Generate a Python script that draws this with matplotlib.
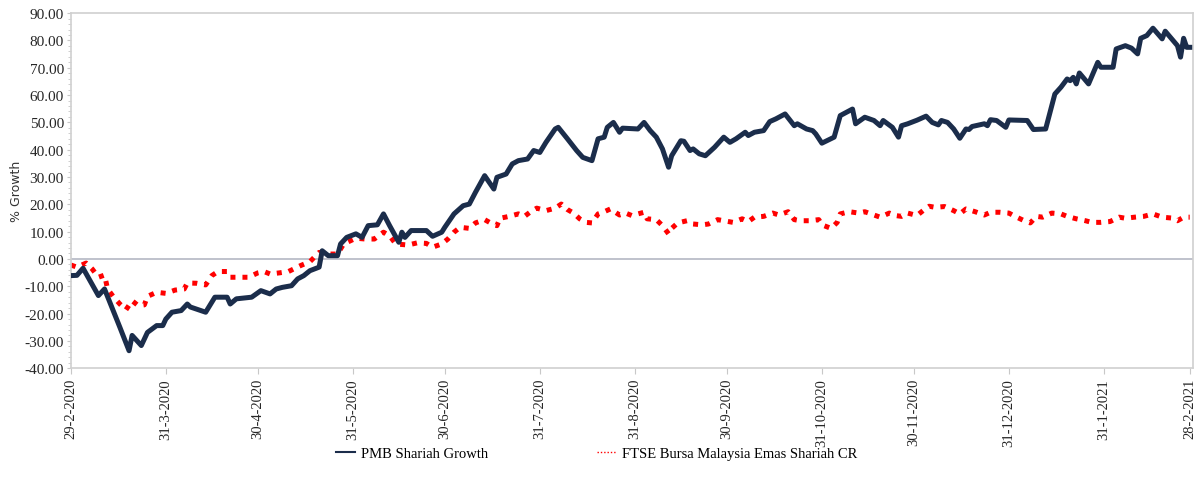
import numpy as np
import pandas as pd
import matplotlib
matplotlib.use("Agg")
import matplotlib.pyplot as plt
from matplotlib.ticker import MultipleLocator, FormatStrFormatter

# days after 29-2-2020 and % growth
pmb_days = [0, 2, 4, 9, 11, 16, 19, 20, 23, 25, 28, 30, 31, 33, 36, 38, 39, 44, 47, 51, 52,
            54, 59, 62, 65, 67, 69, 72, 74, 76, 78, 81, 82, 84, 87, 88, 90, 93, 95, 97,
            100, 102, 104, 107, 108, 109, 111, 116, 118, 121, 122, 125, 128, 130, 132, 135,
            138, 139, 142, 144, 146, 149, 151, 153, 155, 158, 159, 162, 165, 167, 170, 172,
            174, 175, 177, 179, 180, 185, 187, 189, 191, 193, 195, 196, 199, 200, 202, 203,
            205, 207, 210, 213, 215, 217, 220, 221, 223, 226, 228, 230, 233, 236, 237, 240,
            242, 243, 245, 249, 251, 255, 256, 259, 262, 264, 265, 268, 270, 271, 273, 276,
            279, 281, 283, 284, 286, 288, 290, 292, 293, 294, 298, 299, 300, 302, 305, 306,
            312, 314, 318, 321, 323, 325, 326, 327, 328, 329, 332, 335, 336, 340, 341, 344,
            346, 348, 349, 351, 353, 356, 357, 360, 361, 362, 363, 364, 365]
pmb_vals = [-6.1, -6.0, -3.4, -13.4, -11.0, -25.0, -33.6, -28.0, -31.7, -26.9, -24.4, -24.4, -22.0,
            -19.5, -18.9, -16.5, -17.6, -19.5, -14.0, -14.0, -16.5, -14.6, -14.0, -11.6, -12.8,
            -11.0, -10.4, -9.8, -7.3, -6.1, -4.3, -3.0, 3.0, 1.2, 1.2, 5.5, 7.9, 9.2, 7.9,
            12.2, 12.5, 16.5, 12.2, 6.1, 9.8, 7.9, 10.4, 10.4, 8.3, 9.8, 11.6, 16.5, 19.5, 20.1,
            24.4, 30.5, 25.6, 29.9, 31.1, 34.8, 36.0, 36.6, 39.7, 39.0, 42.7, 47.6, 48.2, 44.0,
            39.7, 37.2, 36.0, 44.0, 44.6, 48.2, 50.0, 46.4, 47.9, 47.6, 50.0, 47.0, 44.6, 40.3,
            33.6, 37.8, 43.3, 43.1, 39.7, 40.3, 38.5, 37.8, 40.9, 44.6, 42.7, 44.0, 46.4, 45.2,
            46.4, 47.0, 50.3, 51.3, 53.1, 48.8, 49.5, 47.6, 47.0, 45.8, 42.4, 44.6, 52.5, 54.9,
            49.5, 51.9, 50.7, 48.8, 50.7, 48.2, 44.6, 48.8, 49.5, 50.8, 52.3, 50.0, 49.1, 50.7,
            50.0, 47.6, 44.2, 47.6, 47.4, 48.5, 49.5, 48.8, 51.0, 50.7, 48.2, 50.9, 50.7, 47.4,
            47.6, 60.4, 62.9, 65.9, 65.3, 66.5, 64.1, 68.1, 64.1, 72.0, 70.2, 70.2, 76.9, 78.1,
            77.2, 75.1, 80.8, 81.8, 84.5, 80.6, 83.4, 79.4, 78.1, 73.9, 80.8, 77.5, 77.5]

ftse_days = [0, 2, 5, 7, 9, 11, 12, 14, 16, 18, 20, 22, 24, 25, 28, 31, 34, 37, 38, 41, 44,
             46, 48, 51, 52, 55, 58, 61, 63, 65, 68, 71, 75, 78, 81, 84, 87, 89, 93, 96, 99,
             102, 104, 106, 110, 113, 116, 118, 121, 123, 125, 127, 130, 132, 135, 138, 139,
             140, 143, 146, 148, 150, 152, 155, 158, 160, 162, 164, 166, 168, 170, 172, 174,
             176, 179, 181, 183, 187, 188, 191, 193, 195, 196, 198, 201, 203, 206, 208, 211,
             213, 216, 219, 221, 223, 226, 229, 231, 234, 236, 238, 241, 244, 245, 248, 250,
             251, 254, 257, 259, 262, 264, 267, 269, 271, 273, 276, 278, 280, 282, 285, 288,
             290, 292, 295, 298, 300, 303, 306, 308, 311, 313, 315, 317, 320, 323, 325, 328,
             331, 333, 336, 339, 342, 344, 347, 350, 353, 356, 359, 361, 363, 365]
ftse_vals = [-2.2, -3.0, -1.5, -3.7, -6.7, -5.9, -11.0, -14.0, -16.5, -18.6, -15.3, -17.1,
             -16.8, -13.7, -12.2, -12.6, -11.4, -11.0, -8.8, -8.9, -9.5, -6.1, -4.6, -4.6,
             -6.7, -6.7, -6.7, -5.1, -4.6, -5.5, -5.1, -4.6, -2.4, -1.0, 2.4, 1.8, 1.8, 5.5,
             7.6, 7.3, 7.3, 9.8, 8.5, 5.5, 5.1, 5.9, 5.7, 4.3, 5.5, 7.3, 9.8, 11.6, 11.2, 13.2,
             14.4, 12.5, 12.2, 14.9, 15.6, 16.5, 15.6, 17.3, 18.6, 17.7, 18.6, 20.1, 18.1, 16.8,
             14.7, 13.4, 13.2, 16.5, 17.3, 18.3, 16.1, 16.8, 15.9, 17.1, 14.7, 14.4, 12.2, 9.2,
             11.2, 13.2, 14.0, 12.8, 12.5, 12.8, 14.4, 14.0, 13.4, 14.7, 13.7, 15.3, 15.6, 16.8,
             16.1, 17.3, 14.4, 14.0, 14.0, 14.4, 12.5, 11.2, 13.4, 16.5, 17.3, 16.8, 17.3, 16.1,
             15.3, 16.8, 15.9, 15.6, 16.8, 15.9, 17.7, 19.3, 18.9, 19.2, 17.7, 16.5, 18.3, 17.3,
             16.1, 17.1, 17.1, 16.8, 15.6, 14.0, 13.2, 15.6, 15.3, 16.8, 16.5, 15.6, 14.7, 14.0,
             13.4, 13.4, 13.7, 15.3, 14.9, 15.3, 15.6, 16.5, 15.3, 15.0, 14.0, 15.3, 15.3]

tick_labels = ["29-2-2020", "31-3-2020", "30-4-2020", "31-5-2020", "30-6-2020", "31-7-2020",
               "31-8-2020", "30-9-2020", "31-10-2020", "30-11-2020", "31-12-2020",
               "31-1-2021", "28-2-2021"]

start = pd.Timestamp("2020-02-29")
pmb_dates = start + pd.to_timedelta(pmb_days, unit="D")
ftse_dates = start + pd.to_timedelta(ftse_days, unit="D")
tick_dates = pd.to_datetime(tick_labels, format="%d-%m-%Y")

serif = "Liberation Serif"
fig = plt.figure(figsize=(12, 4.89), dpi=100)
ax = fig.add_axes([0.059, 0.245, 0.935, 0.726])

ax.axhline(0, color="#b4b8c4", lw=1.2, zorder=1)
ax.plot(pmb_dates, pmb_vals, color="#1b2d4b", lw=3.6, solid_joinstyle="round",
        label="PMB Shariah Growth", zorder=3)
ax.plot(ftse_dates, ftse_vals, color="#ff0000", lw=3.6, linestyle=(0, (1, 1.4)),
        label="FTSE Bursa Malaysia Emas Shariah CR", zorder=2)

ax.set_ylim(-40, 90)
ax.set_xlim(start, pd.Timestamp("2021-03-01"))
ax.yaxis.set_major_locator(MultipleLocator(10))
ax.yaxis.set_minor_locator(MultipleLocator(2))
ax.yaxis.set_major_formatter(FormatStrFormatter("%.2f"))
ax.set_xticks(tick_dates)
ax.set_xticklabels(tick_labels, rotation=90, family=serif, fontsize=10.5,
                   color="#262626")
for lab in ax.get_yticklabels():
    lab.set_family(serif)
    lab.set_fontsize(11)
    lab.set_color("#262626")

ax.tick_params(axis="y", which="major", length=3, color="#c8c8c8", pad=2)
ax.tick_params(axis="y", which="minor", length=2, color="#c8c8c8")
ax.tick_params(axis="x", length=4, color="#c8c8c8", pad=3)
for sp in ax.spines.values():
    sp.set_color("#d0d0d0")
    sp.set_linewidth(1.2)

ax.set_ylabel("% Growth", fontsize=9, color="#333333", labelpad=1)

leg = fig.legend(loc="center", bbox_to_anchor=(0.497, 0.07), ncol=2, frameon=False,
                 prop={"family": serif, "size": 10.5}, handlelength=1.3,
                 columnspacing=7.5, handletextpad=0.4)
leg.legend_handles[0].set_linewidth(1.5)
leg.legend_handles[1].set_linewidth(1.0)

fig.savefig("out.png", dpi=100)
